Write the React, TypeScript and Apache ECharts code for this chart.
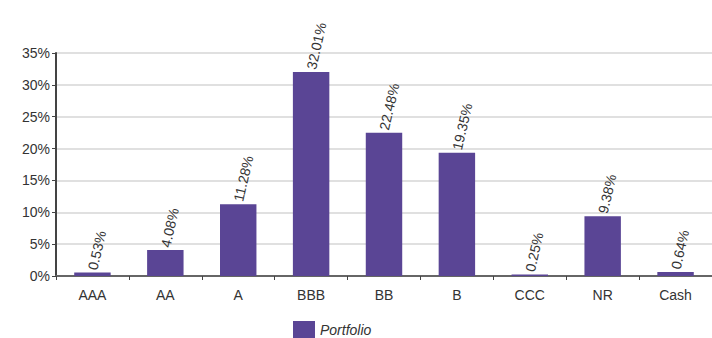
import React, { useEffect, useRef } from "react";
import * as echarts from "echarts";

const categories = ["AAA", "AA", "A", "BBB", "BB", "B", "CCC", "NR", "Cash"];
const portfolio = [0.53, 4.08, 11.28, 32.01, 22.48, 19.35, 0.25, 9.38, 0.64];
const yTicks = [0, 5, 10, 15, 20, 25, 30, 35];

export default function App() {
  const ref = useRef<HTMLDivElement>(null);
  useEffect(() => {
    const chart = echarts.init(ref.current!, null, { renderer: "svg" });
    chart.setOption({
      animation: false,
      textStyle: { fontFamily: "Liberation Sans, Arial, sans-serif" },
      grid: { left: 56, top: 53, width: 670, height: 223, containLabel: false },
      legend: {
        left: 288,
        top: 316,
        itemWidth: 22,
        itemHeight: 18,
        itemGap: 10,
        icon: "rect",
        textStyle: { fontStyle: "italic", fontSize: 14, color: "#333" },
        data: ["Portfolio"],
      },
      xAxis: {
        type: "category",
        data: categories,
        axisLine: { lineStyle: { color: "#666", width: 2 } },
        axisTick: { show: true, length: 4, lineStyle: { color: "#444" } },
        axisLabel: { color: "#333", fontSize: 14, margin: 12 },
      },
      yAxis: {
        type: "value",
        min: yTicks[0],
        max: yTicks[yTicks.length - 1],
        interval: 5,
        axisLine: { show: true, lineStyle: { color: "#444", width: 2 } },
        axisTick: { show: true, length: 4, lineStyle: { color: "#444" } },
        axisLabel: { color: "#333", fontSize: 14, margin: 6, formatter: (v: number) => v + "%" },
        splitLine: { lineStyle: { color: "#e0e0e0", width: 2 } },
      },
      series: [
        {
          name: "Portfolio",
          type: "bar",
          data: portfolio,
          barWidth: "50%",
          itemStyle: { color: "#5a4595" },
          label: {
            show: true,
            position: "top",
            rotate: 77,
            align: "left",
            verticalAlign: "middle",
            distance: 3,
            color: "#333",
            fontSize: 14,
            formatter: (p: any) => p.value.toFixed(2) + "%",
          },
        },
      ],
    });
    return () => chart.dispose();
  }, []);
  return <div ref={ref} style={{ width: 712, height: 338, position: "absolute", left: 0, top: 0 }} />;
}
